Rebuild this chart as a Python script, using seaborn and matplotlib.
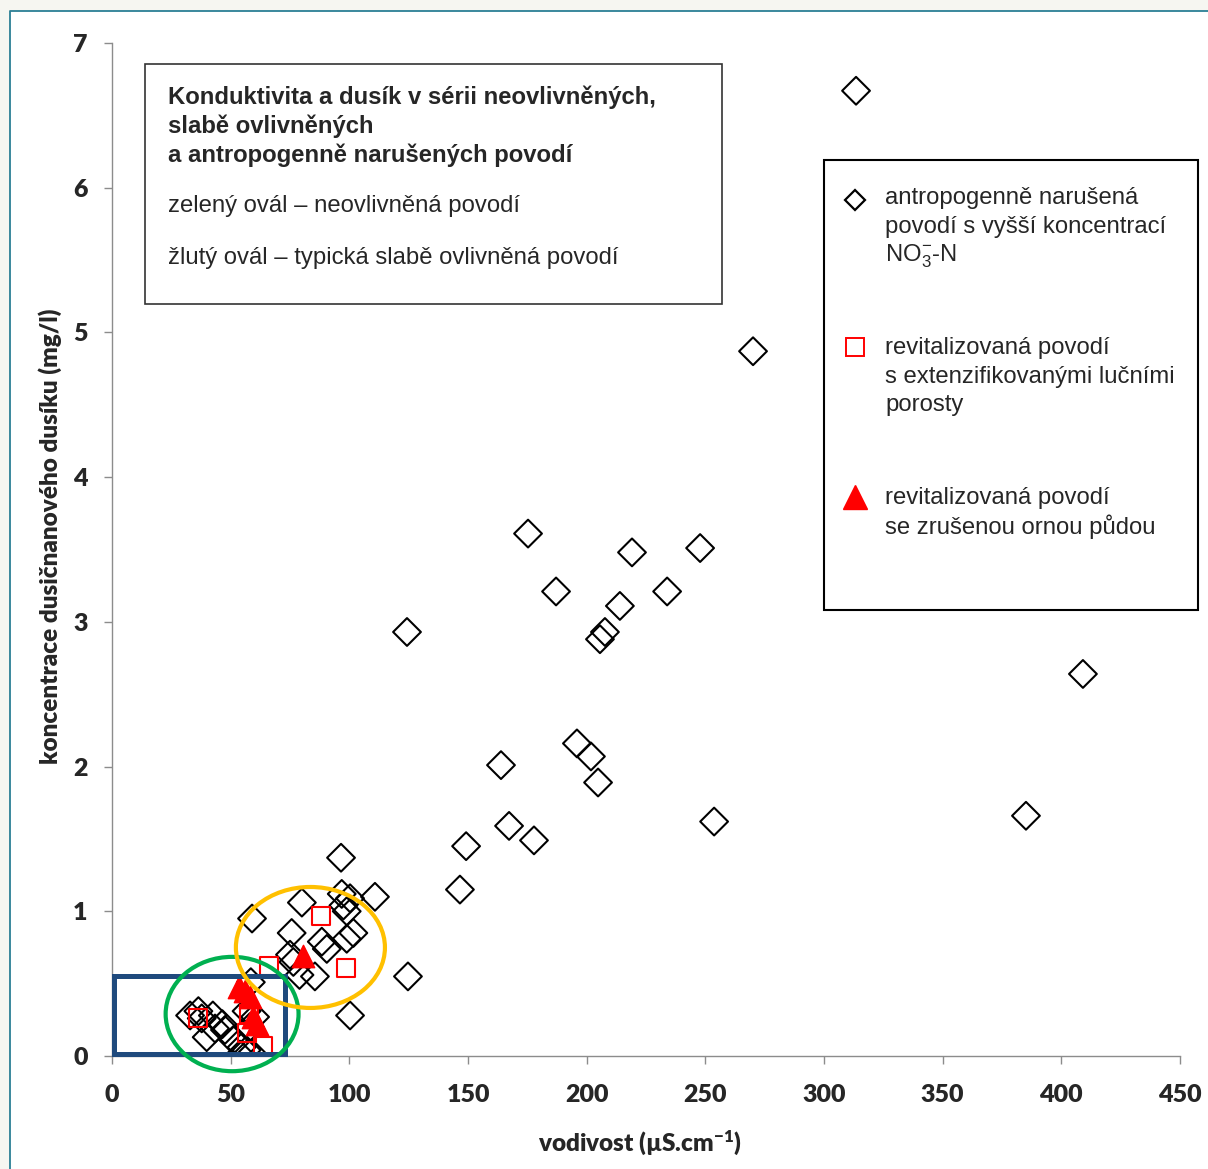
import pandas as pd
import matplotlib.pyplot as plt
import seaborn as sns
from matplotlib.patches import Ellipse, Rectangle
from matplotlib.lines import Line2D

# antropogenně narušená povodí (diamonds)
diam_x = [313.5, 270.1, 175.3, 219.1, 247.8, 187.1, 233.9, 214.0, 124.3, 207.7, 205.6, 409.1,
          195.9, 201.8, 163.9, 204.8, 253.7, 385.1, 167.3, 177.8, 149.2, 146.6, 124.7, 100.3,
          96.5, 110.8, 80.0, 59.0, 96.8, 100.3, 97.5, 98.9, 75.7, 101.7, 98.9, 88.4, 90.5,
          75.0, 76.4, 79.0, 85.5, 58.5,
          32.9, 36.4, 37.8, 42.5, 46.5, 39.9, 43.4, 47.6, 56.7, 60.3, 58.1, 51.1, 54.6, 56.7,
          53.9, 58.9]
diam_y = [6.67, 4.87, 3.61, 3.48, 3.51, 3.21, 3.21, 3.11, 2.93, 2.93, 2.88, 2.64,
          2.16, 2.07, 2.01, 1.89, 1.62, 1.66, 1.59, 1.49, 1.45, 1.15, 0.55, 0.28,
          1.37, 1.10, 1.06, 0.95, 1.12, 1.09, 1.04, 1.00, 0.85, 0.85, 0.81, 0.79, 0.74,
          0.70, 0.65, 0.56, 0.55, 0.51,
          0.28, 0.31, 0.26, 0.28, 0.22, 0.13, 0.19, 0.18, 0.31, 0.27, 0.20, 0.11, 0.06, 0.04,
          0.01, 0.02]

# revitalizovaná povodí s extenzifikovanými lučními porosty (squares)
sq_x = [36.2, 57.8, 57.0, 63.6, 66.2, 88.1, 98.6]
sq_y = [0.26, 0.29, 0.16, 0.07, 0.62, 0.97, 0.61]

# revitalizovaná povodí se zrušenou ornou půdou (triangles)
tri_x = [53.5, 56.0, 58.0, 59.5, 61.0, 80.3]
tri_y = [0.48, 0.45, 0.41, 0.27, 0.22, 0.69]

x_ticks = [0, 50, 100, 150, 200, 250, 300, 350, 400, 450]
y_ticks = [0, 1, 2, 3, 4, 5, 6, 7]

sns.set_style("ticks")
plt.rcParams['font.family'] = ['Liberation Sans', 'DejaVu Sans']
plt.rcParams['mathtext.default'] = 'regular'

W, H = 1208, 1169
fig = plt.figure(figsize=(W / 100, H / 100), dpi=100)
fig.patch.set_facecolor('#f6f6f1')


def fx(px):
    return px / W


def fy(py):
    return 1 - py / H


# white page with teal frame
fig.add_artist(Rectangle((fx(10), 0), 1 - fx(10), fy(11), transform=fig.transFigure,
                         facecolor='white', edgecolor='none', zorder=0))
fig.add_artist(Line2D([fx(10), fx(10), 1], [0, fy(11), fy(11)], transform=fig.transFigure,
                      color='#2b7f95', lw=1.3))

ax = fig.add_axes([fx(112), fy(1056), fx(1180) - fx(112), fy(43) - fy(1056)])
ax.set_facecolor('none')

df_d = pd.DataFrame({'vodivost': diam_x, 'dusik': diam_y})
df_s = pd.DataFrame({'vodivost': sq_x, 'dusik': sq_y})
df_t = pd.DataFrame({'vodivost': tri_x, 'dusik': tri_y})

sns.scatterplot(data=df_d, x='vodivost', y='dusik', marker='D', s=200,
                facecolor='none', edgecolor='black', linewidth=1.5, ax=ax, zorder=3)
sns.scatterplot(data=df_s, x='vodivost', y='dusik', marker='s', s=170,
                facecolor='none', edgecolor='#ff0000', linewidth=1.5, ax=ax, zorder=4)
sns.scatterplot(data=df_t, x='vodivost', y='dusik', marker='^', s=260,
                color='#ff0000', edgecolor='#ff0000', linewidth=1, ax=ax, zorder=5)

# highlight shapes
ax.add_patch(Rectangle((0.8, 0.014), 72.1, 0.536, fill=False, edgecolor='#1f4a7d',
                       lw=3.6, zorder=6, clip_on=False))
ax.add_patch(Ellipse((50.6, 0.29), 56, 0.79, fill=False, edgecolor='#00b050',
                     lw=3, zorder=7, clip_on=False))
ax.add_patch(Ellipse((83.6, 0.75), 62.8, 0.836, fill=False, edgecolor='#ffc000',
                     lw=3, zorder=7, clip_on=False))

ax.set_xlim(0, 450)
ax.set_ylim(0, 7)
ax.set_xticks(x_ticks)
ax.set_yticks(y_ticks)
sns.despine(ax=ax)
for s in ['left', 'bottom']:
    ax.spines[s].set_color('#8c8c8c')
    ax.spines[s].set_linewidth(1)
ax.tick_params(axis='both', direction='out', length=5.5, width=1, color='#8c8c8c')
ax.tick_params(axis='x', pad=15)
ax.tick_params(axis='y', pad=12)
tick_font = dict(family=['Lato', 'DejaVu Sans'], weight='heavy', size=18)
for lab in ax.get_xticklabels() + ax.get_yticklabels():
    lab.set_fontproperties(tick_font)

ax.set_xlabel('vodivost (µS.cm$^{-1}$)', family=['Lato', 'DejaVu Sans'],
              weight='heavy', size=17.5)
ax.xaxis.set_label_coords((640 - 112) / (1180 - 112), -(1143 - 1056) / (1056 - 43), transform=ax.transAxes)
ax.xaxis.label.set_va('center')
ax.set_ylabel('koncentrace dusičnanového dusíku (mg/l)', family=['Lato', 'DejaVu Sans'],
              weight='heavy', size=17.5)
ax.yaxis.set_label_coords(-(112 - 50) / (1180 - 112), (1056 - 536) / (1056 - 43), transform=ax.transAxes)
ax.yaxis.label.set_va('center')

# title box
fig.add_artist(Rectangle((fx(145), fy(304)), fx(722) - fx(145), fy(64) - fy(304),
                         transform=fig.transFigure, facecolor='white', edgecolor='#333333',
                         lw=1.2, zorder=8))
title_lines = [('Konduktivita a dusík v sérii neovlivněných,', 97, 'bold'),
               ('slabě ovlivněných', 126, 'bold'),
               ('a antropogenně narušených povodí', 155, 'bold'),
               ('zelený ovál – neovlivněná povodí', 206, 'normal'),
               ('žlutý ovál – typická slabě ovlivněná povodí', 258, 'normal')]
for txt, py, wt in title_lines:
    fig.text(fx(168), fy(py), txt, ha='left', va='center', size=17.2, weight=wt, zorder=9)

# legend box
fig.add_artist(Rectangle((fx(824), fy(610)), fx(1198) - fx(824), fy(160) - fy(610),
                         transform=fig.transFigure, facecolor='white', edgecolor='black',
                         lw=1.5, zorder=8))
fig.add_artist(Line2D([fx(855)], [fy(200)], transform=fig.transFigure, marker='D', ms=10,
                      mfc='none', mec='black', mew=1.6, zorder=9))
fig.add_artist(Line2D([fx(855)], [fy(347)], transform=fig.transFigure, marker='s', ms=13,
                      mfc='none', mec='#ff0000', mew=1.4, zorder=9))
fig.add_artist(Line2D([fx(855)], [fy(497)], transform=fig.transFigure, marker='^', ms=17,
                      mfc='#ff0000', mec='#ff0000', zorder=9))
legend_lines = [('antropogenně narušená', 198), ('povodí s vyšší koncentrací', 227),
                ('NO$_3^{-}$-N', 256),
                ('revitalizovaná povodí', 348), ('s extenzifikovanými lučními', 377),
                ('porosty', 405),
                ('revitalizovaná povodí', 498), ('se zrušenou ornou půdou', 527)]
for txt, py in legend_lines:
    fig.text(fx(885), fy(py), txt, ha='left', va='center', size=17.2, zorder=9)

fig.savefig('out.png', dpi=100)
